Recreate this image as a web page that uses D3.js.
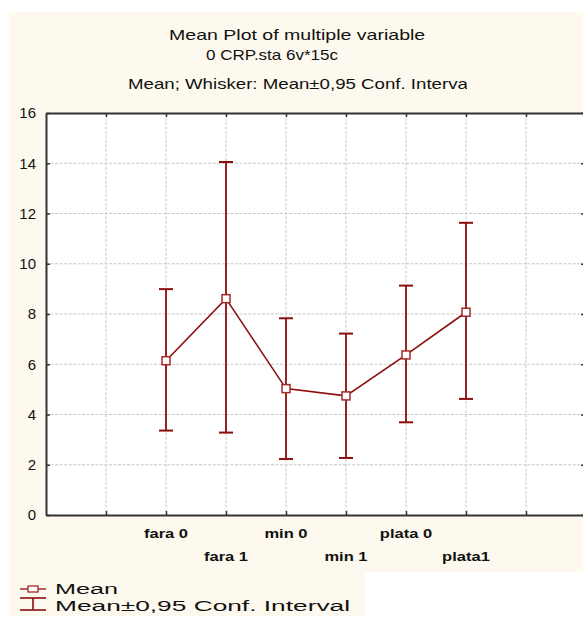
<!DOCTYPE html>
<html>
<head>
<meta charset="utf-8">
<script src="https://cdn.jsdelivr.net/npm/d3@7"></script>
<style>
  body { margin: 0; background: #fff; }
  text { font-family: "Liberation Sans", Arial, sans-serif; }
</style>
</head>
<body>
<div id="chart"></div>
<script>
// values
var categories = ["fara 0", "fara 1", "min 0", "min 1", "plata 0", "plata1"];
var means = [6.14, 8.61, 5.03, 4.74, 6.37, 8.07];
var upper = [8.99, 14.05, 7.83, 7.22, 9.13, 11.63];
var lower = [3.36, 3.28, 2.23, 2.27, 3.69, 4.62];
var yTicks = [0, 2, 4, 6, 8, 10, 12, 14, 16];
var titleLines = ["Mean Plot of multiple variables", "0 CRP.sta 6v*15c", "Mean; Whisker: Mean\u00b10,95 Conf. Interval"];
var legendLabels = ["Mean", "Mean\u00b10,95 Conf. Interval"];

var W = 583, H = 617;
var red = "#8b0d0d";
var cream = "#fdf9ee";

var svg = d3.select("#chart").append("svg")
    .attr("width", W)
    .attr("height", H);

// cream panels
svg.append("rect").attr("x", 9).attr("y", 12).attr("width", W - 9).attr("height", 560).attr("fill", cream);
svg.append("rect").attr("x", 9).attr("y", 570).attr("width", 356).attr("height", 46).attr("fill", cream);

// plot area: x runs past the right edge of the picture
var margin = { left: 46, top: 113, bottom: 515 };
var x = d3.scaleLinear().domain([0, 9]).range([margin.left, margin.left + 540]);
var y = d3.scaleLinear().domain([0, 16]).range([margin.bottom, margin.top]);

svg.append("rect")
    .attr("x", x(0)).attr("y", y(16))
    .attr("width", x(9) - x(0)).attr("height", y(0) - y(16))
    .attr("fill", "#fff");

// grid
var g = svg.append("g");
g.selectAll(".vgrid").data(d3.range(1, 9)).enter().append("line")
    .attr("class", "vgrid")
    .attr("x1", function(d) { return x(d); }).attr("x2", function(d) { return x(d); })
    .attr("y1", y(16)).attr("y2", y(0))
    .attr("stroke", "#c8c8c8").attr("stroke-dasharray", "3,1.5");
g.selectAll(".hgrid").data(yTicks.slice(1, -1)).enter().append("line")
    .attr("class", "hgrid")
    .attr("x1", x(0)).attr("x2", x(9))
    .attr("y1", function(d) { return y(d); }).attr("y2", function(d) { return y(d); })
    .attr("stroke", "#c8c8c8").attr("stroke-dasharray", "3,1.5");

// axes (ticks pointing into the plot)
var axisColor = "#333";
function frame(axis, tr) {
    var a = svg.append("g").attr("transform", tr).call(axis);
    a.select(".domain").attr("stroke", axisColor).attr("stroke-width", 2);
    a.selectAll(".tick line").attr("stroke", axisColor).attr("stroke-width", 1.5);
    a.selectAll(".tick text").remove();
    return a;
}
frame(d3.axisBottom(x).tickValues(d3.range(1, 9)).tickSizeInner(-4).tickSizeOuter(0), "translate(0," + y(0) + ")");
frame(d3.axisTop(x).tickValues(d3.range(1, 9)).tickSizeInner(-4).tickSizeOuter(0), "translate(0," + y(16) + ")");
frame(d3.axisRight(y).tickValues(yTicks).tickSizeInner(-5).tickSizeOuter(0), "translate(" + x(9) + ",0)");

var yAx = svg.append("g").attr("transform", "translate(" + x(0) + ",0)")
    .call(d3.axisLeft(y).tickValues(yTicks).tickSizeInner(-4).tickSizeOuter(0).tickPadding(10));
yAx.select(".domain").attr("stroke", axisColor).attr("stroke-width", 2);
yAx.selectAll(".tick line").attr("stroke", axisColor).attr("stroke-width", 1.5);
yAx.selectAll(".tick text")
    .attr("font-size", 15).attr("fill", "#111")
    .style("font-family", "'Liberation Sans', Arial, sans-serif");

// x category labels, staggered on two rows
var pos = categories.map(function(d, i) { return i + 2; });
svg.selectAll(".xlab").data(categories).enter().append("text")
    .attr("class", "xlab")
    .attr("x", function(d, i) { return x(pos[i]); })
    .attr("y", function(d, i) { return i % 2 === 0 ? 538 : 561; })
    .attr("text-anchor", "middle")
    .attr("font-size", 13).attr("font-weight", "bold").attr("fill", "#111")
    .text(function(d) { return d; })
    .each(function() {
        var len = this.getComputedTextLength();
        d3.select(this).attr("textLength", len * 1.27).attr("lengthAdjust", "spacingAndGlyphs");
    });

// connecting line
var line = d3.line()
    .x(function(d, i) { return x(pos[i]); })
    .y(function(d) { return y(d); });
svg.append("path").datum(means)
    .attr("d", line)
    .attr("fill", "none").attr("stroke", red).attr("stroke-width", 1.6);

// whiskers
var wh = svg.selectAll(".whisker").data(categories).enter().append("g").attr("class", "whisker");
wh.append("line")
    .attr("x1", function(d, i) { return x(pos[i]); }).attr("x2", function(d, i) { return x(pos[i]); })
    .attr("y1", function(d, i) { return y(upper[i]); }).attr("y2", function(d, i) { return y(lower[i]); })
    .attr("stroke", red).attr("stroke-width", 1.8);
[upper, lower].forEach(function(arr) {
    wh.append("line")
        .attr("x1", function(d, i) { return x(pos[i]) - 7; }).attr("x2", function(d, i) { return x(pos[i]) + 7; })
        .attr("y1", function(d, i) { return y(arr[i]); }).attr("y2", function(d, i) { return y(arr[i]); })
        .attr("stroke", red).attr("stroke-width", 2);
});

// mean markers
svg.selectAll(".pt").data(means).enter().append("rect")
    .attr("class", "pt")
    .attr("x", function(d, i) { return x(pos[i]) - 4; })
    .attr("y", function(d) { return y(d) - 4; })
    .attr("width", 8).attr("height", 8)
    .attr("fill", "#fff").attr("stroke", "#a42a2a").attr("stroke-width", 1.5);

// titles (clipped like the original)
var defs = svg.append("defs");
var titleSpec = [
    { y: 40, x: 169, len: 266, clip: 426 },
    { y: 60, x: 206, len: 132, clip: 583 },
    { y: 89, x: 128, len: 344, clip: 467 }
];
titleLines.forEach(function(t, i) {
    var s = titleSpec[i];
    defs.append("clipPath").attr("id", "tclip" + i)
        .append("rect").attr("x", 0).attr("y", 0).attr("width", s.clip).attr("height", 120);
    svg.append("text")
        .attr("clip-path", "url(#tclip" + i + ")")
        .attr("x", s.x).attr("y", s.y)
        .attr("font-size", 15).attr("fill", "#111")
        .attr("textLength", s.len).attr("lengthAdjust", "spacingAndGlyphs")
        .text(t);
});

// legend
var lg = svg.append("g");
lg.append("line").attr("x1", 20).attr("x2", 46).attr("y1", 589).attr("y2", 589)
    .attr("stroke", red).attr("stroke-width", 1.3);
lg.append("rect").attr("x", 28).attr("y", 586).attr("width", 10).attr("height", 6)
    .attr("fill", "#fff").attr("stroke", "#a42a2a").attr("stroke-width", 1.3);
lg.append("line").attr("x1", 33).attr("x2", 33).attr("y1", 598).attr("y2", 610)
    .attr("stroke", red).attr("stroke-width", 1.6);
lg.append("line").attr("x1", 20).attr("x2", 46).attr("y1", 598).attr("y2", 598)
    .attr("stroke", red).attr("stroke-width", 1.6);
lg.append("line").attr("x1", 20).attr("x2", 46).attr("y1", 610).attr("y2", 610)
    .attr("stroke", red).attr("stroke-width", 1.6);
var legendLen = [63, 295];
legendLabels.forEach(function(t, i) {
    lg.append("text")
        .attr("x", 55).attr("y", i === 0 ? 594 : 611)
        .attr("font-size", 14).attr("fill", "#111")
        .attr("textLength", legendLen[i]).attr("lengthAdjust", "spacingAndGlyphs")
        .text(t);
});
</script>
</body>
</html>
